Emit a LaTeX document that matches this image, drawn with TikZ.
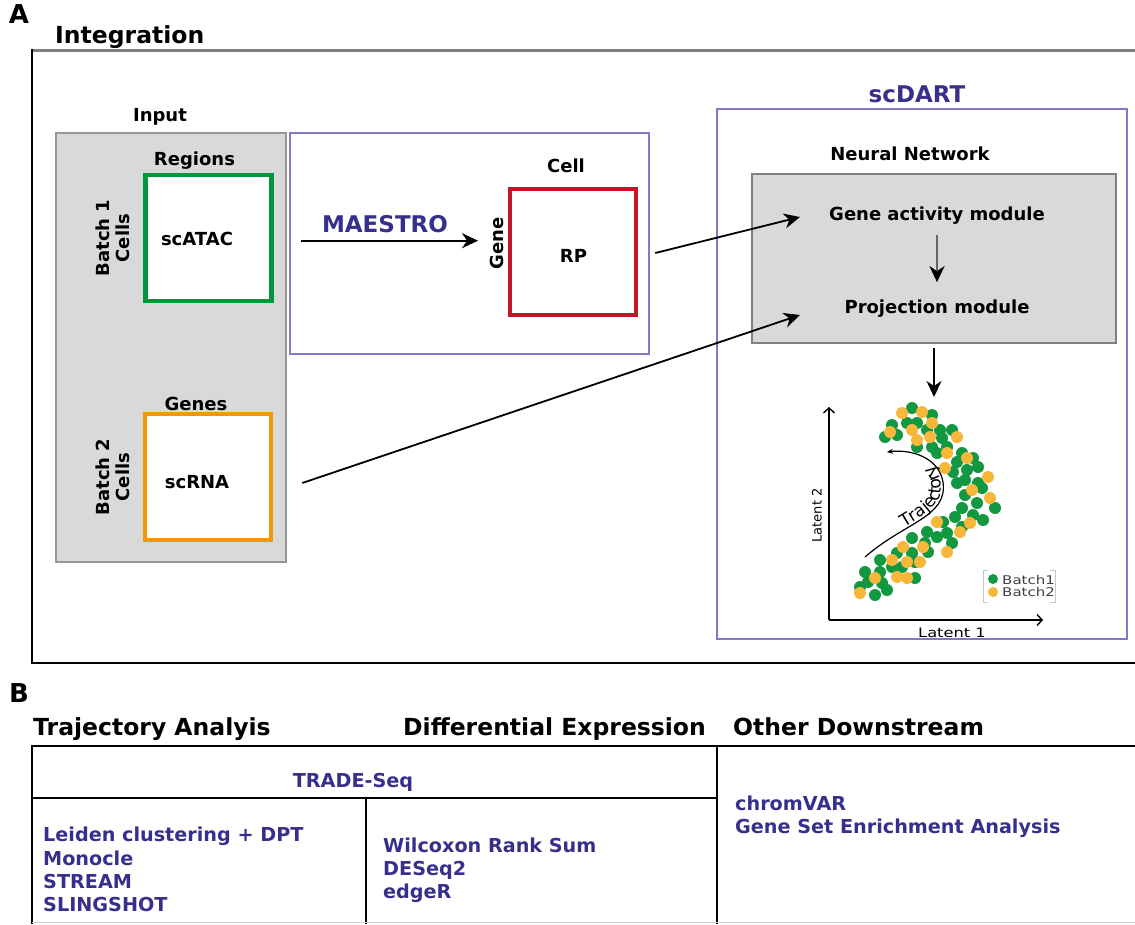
\documentclass[tikz,border=0pt]{standalone}
\usepackage{fontspec}
\setmainfont{DejaVu Sans}
\newfontfamily\rotfont{DejaVu Sans}
\newfontfamily\plotfont{DejaVu Sans}[FakeStretch=1.25]
\usetikzlibrary{arrows.meta,decorations.text,calc}
\definecolor{blueT}{RGB}{56,46,140}
\definecolor{boxP}{RGB}{130,122,200}
\definecolor{grayF}{RGB}{217,217,217}
\definecolor{grayS}{RGB}{150,150,150}
\definecolor{greenB}{RGB}{0,150,60}
\definecolor{orangeB}{RGB}{245,150,10}
\definecolor{redB}{RGB}{195,20,40}
\definecolor{dotG}{RGB}{18,152,64}
\definecolor{dotO}{RGB}{247,183,58}
\definecolor{frameG}{RGB}{128,128,128}
\begin{document}
\begin{tikzpicture}[x=1pt,y=-1pt,
 ttl/.style={font=\fontsize{23.5}{28}\selectfont\bfseries, inner sep=0, anchor=base},
 lbl/.style={font=\fontsize{18}{21}\selectfont\bfseries, inner sep=0, anchor=base},
 rlbl/.style={font=\rotfont\fontsize{18}{20.5}\selectfont\bfseries, inner sep=0, rotate=90, align=center},
 btitle/.style={font=\fontsize{23}{28}\selectfont\bfseries, text=blueT, inner sep=0, anchor=base},
 blist/.style={font=\fontsize{19.2}{23}\selectfont\bfseries, text=blueT, inner sep=0, anchor=base west},
 mat/.style={draw, fill=white, line width=4.5pt, minimum width=126pt, minimum height=126pt, inner sep=0},
 pbox/.style={draw=boxP, line width=1.8pt, inner sep=0},
 gbox/.style={draw=grayS, fill=grayF, line width=1.5pt, inner sep=0},
 arr/.style={line width=1.8pt, -{Stealth[length=16pt,width=15pt,inset=5pt]}},
 ax/.style={line width=1.4pt, -{Straight Barb[length=5pt,width=11pt]}},
 plt/.style={font=\plotfont\fontsize{13}{15}\selectfont, inner sep=0},
 tline/.style={line width=1.8pt},
]
\useasboundingbox (0,0) rectangle (1135,924);
% ---------- Panel A ----------
\node[ttl, font=\fontsize{26}{30}\selectfont\bfseries] (lblA) at (19,23) {A};
\node[ttl, anchor=base west] (integ) at (55,43) {Integration};
\draw[frameG, line width=3pt] (32,50) -- (1135,50);
\draw[line width=1.8pt] (32,49) -- (32,663) -- (1135,663);

% Input
\node[gbox, minimum width=230pt, minimum height=429pt] (inp) at (171,347.5) {};
\node[lbl] (inplbl) at (160,121) {Input};
\node[mat, draw=greenB] (atac) at (208.5,238) {};
\node[lbl] (regions) at (194.5,165) {Regions};
\node[lbl] (atactxt) at (197,245) {scATAC};
\node[rlbl] (b1) at (113,238) {Batch 1\\Cells};
\node[mat, draw=orangeB] (rna) at (208,477) {};
\node[lbl] (genes) at (196,410) {Genes};
\node[lbl] (rnatxt) at (197,488) {scRNA};
\node[rlbl] (b2) at (113,477) {Batch 2\\Cells};

% MAESTRO
\node[pbox, minimum width=359pt, minimum height=221pt] (mae) at (469.5,243.5) {};
\node[btitle] (maetxt) at (385,232) {MAESTRO};
\node[lbl] (cell) at (566,172) {Cell};
\node[mat, draw=redB] (rp) at (573,252) {};
\node[lbl] (rptxt) at (573.5,262) {RP};
\node[rlbl] (gene) at (497,243.5) {Gene};
\coordinate (mtip) at (478,240.7);
\draw[arr] ($(mae.west)+(12,-2.8)$) -- (mtip);

% scDART
\node[pbox, minimum width=410pt, minimum height=530pt] (dart) at (922,374) {};
\node[btitle] (darttxt) at (917,102) {scDART};
\node[lbl] (nntxt) at (910,160) {Neural Network};
\node[gbox, draw=gray, minimum width=364pt, minimum height=169pt] (nn) at (934,258.5) {};
\node[lbl] (gam) at (937,220) {Gene activity module};
\node[lbl] (proj) at (937,313) {Projection module};
\draw[arr, draw=black!60, -{Stealth[length=16pt,width=15pt,inset=5pt,black]}, shorten <=11pt, shorten >=17pt] (gam.south) -- (proj.north);

\coordinate (gamin) at (800,217);
\draw[arr] ($(rp.east)+(17,1)$) -- (gamin);
\coordinate (projin) at (800,315);
\draw[arr] ($(rna.east)+(29,6)$) -- (projin);
\coordinate (ptop) at (934,397);
\draw[arr, shorten <=4pt] (nn.south) -- (ptop);

% scatter plot
\coordinate (orig) at (829,620);
\coordinate (ytip) at (829,407);
\coordinate (xtip) at (1043,620);
\draw[ax] (orig) -- (ytip);
\draw[ax] (orig) -- (xtip);
\node[plt, anchor=base] (lat1) at (952,637) {Latent 1};
\node[plt, font=\rotfont\fontsize{13}{15}\selectfont, rotate=90] (lat2) at (817,515.5) {Latent 2};

\foreach \x/\y in {912/408,932/415,892/425,907/423,917/423,885/437,897/435,927/430,940/430,952/430,
 917/447,932/447,942/438,937/453,947/447,962/453,973/458,957/462,978/467,953/472,967/470,957/483,
 965/480,978/483,965/495,982/488,977/503,962/508,995/508,973/515,983/520,955/517,943/522,962/527,
 927/532,937/537,947/533,912/538,925/543,952/543,897/553,880/560,912/553,928/552,915/562,892/567,
 865/572,880/572,868/582,882/583,902/567,915/578,860/587,875/595,887/590}
  \fill[dotG] (\x,\y) circle (6pt);
\foreach \x/\y in {902/413,922/412,932/423,890/432,912/430,917/440,930/437,957/437,947/453,967/458,
 945/468,988/477,972/490,990/498,937/522,960/532,970/523,947/552,903/547,923/547,892/560,907/562,
 920/562,897/577,907/578,875/578,860/593}
  \fill[dotO] (\x,\y) circle (6pt);

\draw[line width=1.2pt, -{Stealth[length=6pt,width=5pt]}] (865,557) .. controls (905,522) and (948,517) .. (943,482) .. controls (939,458) and (912,449) .. (887,452);
\path[decorate, decoration={text along path, text={|\rotfont\fontsize{17}{19}\selectfont|Trajectory}, text align=center, raise=2pt}] (865,557) .. controls (905,522) and (948,517) .. (943,482) .. controls (939,458) and (912,449) .. (887,452);

% legend
\draw[gray!45, line width=0.8pt] (988,570) -- (983,570) -- (983,602) -- (988,602);
\draw[gray!45, line width=0.8pt] (1050,570) -- (1055,570) -- (1055,602) -- (1050,602);
\fill[dotG] (993,579) circle (5pt);
\fill[dotO] (993,592) circle (5pt);
\node[plt, font=\plotfont\fontsize{12}{12}\selectfont, text=black!75, anchor=base west] (leg1) at (1002,584) {Batch1};
\node[plt, font=\plotfont\fontsize{12}{12}\selectfont, text=black!75, anchor=base west] (leg2) at (1002,596.5) {Batch2};

% ---------- Panel B ----------
\node[ttl, font=\fontsize{26}{30}\selectfont\bfseries] (lblB) at (19,702) {B};
\node[ttl, anchor=base west] (h1) at (33,735) {Trajectory Analyis};
\node[ttl, anchor=base west] (h2) at (403,735) {Differential Expression};
\node[ttl, anchor=base west] (h3) at (733,735) {Other Downstream};
\draw[tline] (1135,746) -- (32,746) -- (32,924);
\draw[line width=2.6pt] (32,798) -- (717,798);
\draw[tline] (717,746) -- (717,924);
\draw[tline] (366,798) -- (366,924);
\draw[gray!35, line width=1pt] (32,922) -- (1135,922);

\node[blist, anchor=base] (trade) at (353,787) {TRADE-Seq};
\node[blist] (t1) at (43,841.5) {Leiden clustering + DPT};
\node[blist] (t2) at (43,865) {Monocle};
\node[blist] (t3) at (43,888) {STREAM};
\node[blist] (t4) at (43,911.5) {SLINGSHOT};
\node[blist] (d1) at (383,852) {Wilcoxon Rank Sum};
\node[blist] (d2) at (383,875) {DESeq2};
\node[blist] (d3) at (383,898) {edgeR};
\node[blist] (o1) at (735,810) {chromVAR};
\node[blist] (o2) at (735,833) {Gene Set Enrichment Analysis};
\end{tikzpicture}
\end{document}
